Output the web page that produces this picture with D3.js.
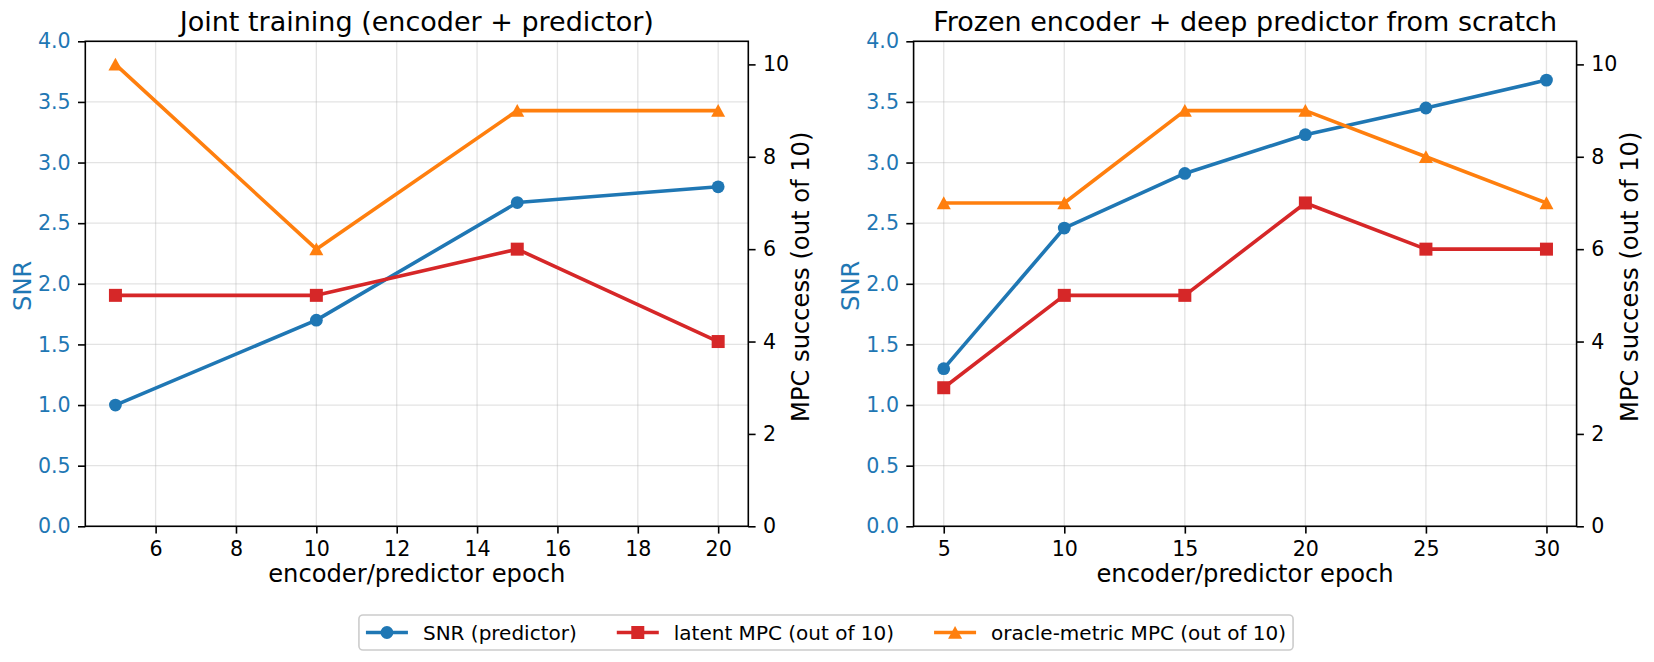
<!DOCTYPE html>
<html>
<head>
<meta charset="utf-8">
<script src="https://cdn.jsdelivr.net/npm/d3@7"></script>
<style>
  html, body { margin: 0; padding: 0; background: #fff; }
  svg { display: block; font-family: "DejaVu Sans", sans-serif; }
</style>
</head>
<body>
<svg id="chart" width="1654" height="662"></svg>
<script>
// ---------------- data ----------------
const leftTitle = "Joint training (encoder + predictor)";
const rightTitle = "Frozen encoder + deep predictor from scratch";
const xLabel = "encoder/predictor epoch";
const ySNRLabel = "SNR";
const yMPCLabel = "MPC success (out of 10)";

const leftEpochs = [5, 10, 15, 20];
const leftSNR = [1.00, 1.70, 2.67, 2.80];
const leftLatentMPC = [5, 5, 6, 4];
const leftOracleMPC = [10, 6, 9, 9];
const leftXTicks = [6, 8, 10, 12, 14, 16, 18, 20];

const rightEpochs = [5, 10, 15, 20, 25, 30];
const rightSNR = [1.30, 2.46, 2.91, 3.23, 3.45, 3.68];
const rightLatentMPC = [3, 5, 5, 7, 6, 6];
const rightOracleMPC = [7, 7, 9, 9, 8, 7];
const rightXTicks = [5, 10, 15, 20, 25, 30];

const snrTicks = [0, 0.5, 1, 1.5, 2, 2.5, 3, 3.5, 4];
const mpcTicks = [0, 2, 4, 6, 8, 10];

const seriesNames = ["SNR (predictor)", "latent MPC (out of 10)", "oracle-metric MPC (out of 10)"];
const colors = { snr: "#1f77b4", latent: "#d62728", oracle: "#ff7f0e" };

// ---------------- drawing ----------------
const svg = d3.select("#chart");
const TICK_FS = 20.6, LABEL_FS = 24.2, TITLE_FS = 27, LEG_FS = 20;
const TICK_LEN = 7.3, TICK_PAD = 7.3, LW = 3.6;

function marker(g, type, x, y, color) {
  if (type === "circle") {
    g.append("circle").attr("cx", x).attr("cy", y).attr("r", 6.4).attr("fill", color);
  } else if (type === "square") {
    g.append("rect").attr("x", x - 6.5).attr("y", y - 6.5).attr("width", 13).attr("height", 13).attr("fill", color);
  } else {
    g.append("path").attr("d", `M${x},${y - 6.6}L${x + 7},${y + 6.2}L${x - 7},${y + 6.2}Z`).attr("fill", color);
  }
}

function drawPanel(p) {
  const L = p.left, R = p.right, T = 41.3, B = 526.3;
  const x = d3.scaleLinear().domain(p.xDomain).range([L, R]);
  const ySNR = d3.scaleLinear().domain([0, 4]).range([B, T]);
  const yMPC = d3.scaleLinear().domain([0, 10.5]).range([B, T]);
  const g = svg.append("g");

  // grid
  const grid = g.append("g");
  p.xTicks.forEach(t => grid.append("line").attr("x1", x(t)).attr("x2", x(t)).attr("y1", T).attr("y2", B)
    .attr("stroke", "#b0b0b0").attr("stroke-opacity", 0.35).attr("stroke-width", 1.3));
  snrTicks.forEach(t => grid.append("line").attr("x1", L).attr("x2", R).attr("y1", ySNR(t)).attr("y2", ySNR(t))
    .attr("stroke", "#b0b0b0").attr("stroke-opacity", 0.35).attr("stroke-width", 1.3));

  // SNR line (primary axis)
  const lineSNR = d3.line().x((d, i) => x(p.epochs[i])).y(d => ySNR(d));
  g.append("path").attr("d", lineSNR(p.snr)).attr("fill", "none").attr("stroke", colors.snr)
    .attr("stroke-width", LW).attr("stroke-linejoin", "round");
  p.snr.forEach((d, i) => marker(g, "circle", x(p.epochs[i]), ySNR(d), colors.snr));

  // MPC lines (twin axis)
  const lineMPC = d3.line().x((d, i) => x(p.epochs[i])).y(d => yMPC(d));
  g.append("path").attr("d", lineMPC(p.latent)).attr("fill", "none").attr("stroke", colors.latent)
    .attr("stroke-width", LW).attr("stroke-linejoin", "round");
  p.latent.forEach((d, i) => marker(g, "square", x(p.epochs[i]), yMPC(d), colors.latent));
  g.append("path").attr("d", lineMPC(p.oracle)).attr("fill", "none").attr("stroke", colors.oracle)
    .attr("stroke-width", LW).attr("stroke-linejoin", "round");
  p.oracle.forEach((d, i) => marker(g, "triangle", x(p.epochs[i]), yMPC(d), colors.oracle));

  // axes
  const styleAxis = (ag, labelColor) => {
    ag.select(".domain").remove();
    ag.selectAll(".tick line").attr("stroke", "#000").attr("stroke-width", 1.6);
    ag.selectAll(".tick text").attr("font-size", TICK_FS).attr("fill", labelColor).attr("font-family", "DejaVu Sans");
  };
  const ax = g.append("g").attr("transform", `translate(0,${B})`)
    .call(d3.axisBottom(x).tickValues(p.xTicks).tickFormat(d3.format("d")).tickSize(TICK_LEN).tickPadding(TICK_PAD));
  styleAxis(ax, "#000");
  const ayL = g.append("g").attr("transform", `translate(${L},0)`)
    .call(d3.axisLeft(ySNR).tickValues(snrTicks).tickFormat(d3.format(".1f")).tickSize(TICK_LEN).tickPadding(TICK_PAD));
  styleAxis(ayL, colors.snr);
  const ayR = g.append("g").attr("transform", `translate(${R},0)`)
    .call(d3.axisRight(yMPC).tickValues(mpcTicks).tickFormat(d3.format("d")).tickSize(TICK_LEN).tickPadding(TICK_PAD));
  styleAxis(ayR, "#000");

  // spines
  g.append("rect").attr("x", L).attr("y", T).attr("width", R - L).attr("height", B - T)
    .attr("fill", "none").attr("stroke", "#000").attr("stroke-width", 1.6);

  // labels
  const cx = (L + R) / 2, cy = (T + B) / 2;
  g.append("text").attr("x", cx).attr("y", 31).attr("text-anchor", "middle")
    .attr("font-size", TITLE_FS).attr("fill", "#000").text(p.title);
  g.append("text").attr("x", cx).attr("y", 582).attr("text-anchor", "middle")
    .attr("font-size", LABEL_FS).attr("fill", "#000").text(xLabel);
  g.append("text").attr("transform", `translate(${L - 63},${cy + 2}) rotate(-90)`).attr("text-anchor", "middle")
    .attr("dy", "0.35em").attr("font-size", LABEL_FS).attr("fill", colors.snr).text(ySNRLabel);
  g.append("text").attr("transform", `translate(${R + 52.5},${cy - 7}) rotate(-90)`).attr("text-anchor", "middle")
    .attr("dy", "0.35em").attr("font-size", LABEL_FS).attr("fill", "#000").text(yMPCLabel);
}

drawPanel({ left: 85.3, right: 748.3, xDomain: [4.25, 20.75], xTicks: leftXTicks, epochs: leftEpochs,
  snr: leftSNR, latent: leftLatentMPC, oracle: leftOracleMPC, title: leftTitle });
drawPanel({ left: 913.6, right: 1576.6, xDomain: [3.75, 31.25], xTicks: rightXTicks, epochs: rightEpochs,
  snr: rightSNR, latent: rightLatentMPC, oracle: rightOracleMPC, title: rightTitle });

// ---------------- legend ----------------
const leg = svg.append("g");
const frame = leg.append("rect");
const handleLen = 42, handlePad = 15, colSpace = 40, borderPad = 7;
const types = ["circle", "square", "triangle"];
const cols = [colors.snr, colors.latent, colors.oracle];
const legY = 632.5;
let cursor = 0;
seriesNames.forEach((name, i) => {
  const ig = leg.append("g");
  ig.append("line").attr("x1", cursor).attr("x2", cursor + handleLen).attr("y1", legY).attr("y2", legY)
    .attr("stroke", cols[i]).attr("stroke-width", LW);
  marker(ig, types[i], cursor + handleLen / 2, legY, cols[i]);
  const t = ig.append("text").attr("x", cursor + handleLen + handlePad).attr("y", legY).attr("dy", "0.35em")
    .attr("font-size", LEG_FS).attr("fill", "#000").text(name);
  const w = t.node().getComputedTextLength();
  cursor += handleLen + handlePad + w + colSpace;
});
const contentW = cursor - colSpace;
const totalW = contentW + 2 * borderPad;
const legLeft = 826 - totalW / 2;
leg.selectAll("g").attr("transform", `translate(${legLeft + borderPad},0)`);
frame.attr("x", legLeft).attr("y", 615).attr("width", totalW).attr("height", 35).attr("rx", 4)
  .attr("fill", "#fff").attr("fill-opacity", 0.8).attr("stroke", "#cccccc").attr("stroke-width", 1.6);
</script>
</body>
</html>
